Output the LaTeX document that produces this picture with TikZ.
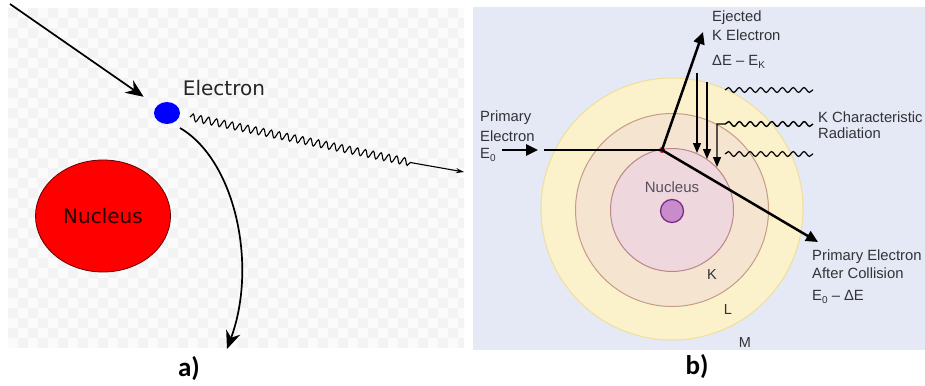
\documentclass[tikz,border=0pt]{standalone}
\usepackage{fontspec}
\setmainfont{Liberation Sans}
\newfontfamily\dejavu{DejaVu Sans}
\newfontfamily\carlito{Carlito}
\usetikzlibrary{arrows.meta,decorations.pathmorphing,shapes.geometric}

\definecolor{chkA}{RGB}{251,251,251}
\definecolor{chkB}{RGB}{243,243,243}
\definecolor{bgB}{RGB}{229,233,245}
\definecolor{Mfill}{RGB}{251,241,203}
\definecolor{Mdraw}{RGB}{240,222,155}
\definecolor{Lfill}{RGB}{245,229,208}
\definecolor{Ldraw}{RGB}{196,156,136}
\definecolor{Kfill}{RGB}{238,216,221}
\definecolor{Kdraw}{RGB}{185,135,138}
\definecolor{nucfill}{RGB}{200,140,205}
\definecolor{nucdraw}{RGB}{120,45,130}
\definecolor{hitred}{RGB}{180,30,45}
\definecolor{txtB}{RGB}{50,50,55}
\definecolor{txtNuc}{RGB}{85,80,90}

\newcommand{\lowsub}[1]{\raisebox{-0.25em}{\fontsize{10}{10}\selectfont #1}}

\begin{document}
\begin{tikzpicture}[x=1pt,y=-1pt,
  arrA/.style={line width=1.7pt,-{Stealth[length=18pt,width=15pt,inset=6pt]}},
  waveA/.style={line width=1.1pt,-{Stealth[length=8pt,width=5pt]},
    decoration={snake,segment length=8pt,amplitude=3.6pt}},
  labA/.style={font=\dejavu\fontsize{20}{22}\selectfont},
  panel/.style={font=\carlito\bfseries\fontsize{27}{28}\selectfont},
  thickB/.style={line width=2.5pt},
  arrB/.style={line width=2.5pt,-{Triangle[length=12pt,width=11pt]}},
  arrD/.style={line width=1.4pt,-{Triangle[length=10pt,width=8pt]}},
  waveB/.style={line width=1.2pt,decoration={snake,segment length=10.8pt,amplitude=2.4pt}},
  shell/.style={circle,inner sep=0pt,line width=1pt},
  labB/.style={anchor=west,inner sep=0pt,text=txtB,font=\fontsize{14.8}{16}\selectfont},
  shellLab/.style={inner sep=0pt,text=txtB,font=\fontsize{14.5}{16}\selectfont},
]
\useasboundingbox (0,0) rectangle (925,385);
\fill[white] (0,0) rectangle (925,385);

% ---------- a) bremsstrahlung ----------
\begin{scope}
  \clip (8,8) rectangle (464,348);
  \fill[chkA] (8,8) rectangle (464,348);
  \foreach \i in {0,2,...,44}
    \foreach \j in {0,2,...,32} {
      \fill[chkB] (8+\i*10,8+\j*10) rectangle ++(10,10);
      \fill[chkB] (18+\i*10,18+\j*10) rectangle ++(10,10);
    }
\end{scope}

\node[ellipse,fill=red,draw=black!60!red,line width=0.8pt,
      minimum width=135pt,minimum height=112pt,inner sep=0pt,
      text=black!85!red,labA] (nucA) at (103,216) {Nucleus};
\node[ellipse,fill=blue,minimum width=26pt,minimum height=22pt,inner sep=0pt] (elec) at (167,113) {};
\node[labA,text=black!85] (elecLab) at (224,88) {Electron};

\coordinate (inA) at (10,4);
\draw[arrA,shorten >=16pt] (inA) -- (elec);

\coordinate (defl0) at (180,128);
\coordinate (defl1) at (227,349);
\draw[arrA] (defl0) .. controls (235,160) and (258,265) .. (defl1);

\coordinate (wave0) at (190,117);
\coordinate (wave1) at (413,163);
\coordinate (wave2) at (464,172);
\draw[waveA] decorate {(wave0) -- (wave1)} -- (wave2);

\node[panel] (labA) at (189,369) {a)};

% ---------- b) characteristic radiation ----------
\fill[bgB] (473,7) rectangle (925,350);

\node[shell,fill=Mfill,draw=Mdraw,minimum size=262pt] (shM) at (672,209) {};
\node[shell,fill=Lfill,draw=Ldraw,minimum size=193pt] (shL) at (672,210) {};
\node[shell,fill=Kfill,draw=Kdraw,minimum size=123pt] (shK) at (672,210) {};
\node[shell,fill=nucfill,draw=nucdraw,line width=1.3pt,minimum size=23pt] (nucB) at (672,211) {};
\node[inner sep=0pt,text=txtNuc,font=\fontsize{15}{16}\selectfont] (nucLab) at (672,187) {Nucleus};

\node[shellLab] (labK) at (712,275) {K};
\node[shellLab] (labL) at (728,310) {L};
\node[shellLab] (labM) at (745,343) {M};

% primary electron in
\coordinate (pin0) at (502,150);
\coordinate (pin1) at (538,150);
\coordinate (pline) at (544,150);
\draw[arrB] (pin0) -- (pin1);
\node[circle,fill=hitred,minimum size=6pt,inner sep=0pt] (hit) at (662,150) {};
\draw[thickB] (pline) -- (hit.center);

% ejected K electron and scattered primary
\coordinate (ejTip) at (703,32);
\coordinate (scTip) at (818,242);
\draw[arrB] (hit.center) -- (ejTip);
\draw[arrB] (hit.center) -- (scTip);

% electron transitions into the K shell
\coordinate (d1a) at (697,73);
\coordinate (d1b) at (697,153);
\coordinate (d2a) at (707,82);
\coordinate (d2b) at (707,159);
\coordinate (d3b) at (717,167);
\draw[arrD] (d1a) -- (d1b);
\draw[arrD] (d2a) -- (d2b);

% emitted photons
\coordinate (w1a) at (725,90);
\coordinate (w1b) at (813,90);
\coordinate (w2a) at (813,124);
\coordinate (w2b) at (723,124);
\coordinate (w2c) at (717,124);
\coordinate (w3a) at (725,154);
\coordinate (w3b) at (813,154);
\draw[waveB] decorate {(w1a) -- (w1b)};
\draw[arrD] decorate[decoration={snake,segment length=10.8pt,amplitude=2.4pt}] {(w2a) -- (w2b)} -- (w2c) -- (d3b);
\draw[waveB] decorate {(w3a) -- (w3b)};

% labels
\node[labB] (tEj1) at (712,18) {Ejected};
\node[labB] (tEj2) at (712,35) {K Electron};
\node[labB] (tEj3) at (712,62) {ΔE – E\lowsub{K}};
\node[labB] (tKc1) at (818,117) {K Characteristic};
\node[labB] (tKc2) at (818,133) {Radiation};
\node[labB] (tPr1) at (480,118) {Primary};
\node[labB] (tPr2) at (480,136) {Electron};
\node[labB] (tPr3) at (480,155) {E\lowsub{0}};
\node[labB] (tAf1) at (812,257) {Primary Electron};
\node[labB] (tAf2) at (812,273) {After Collision};
\node[labB] (tAf3) at (812,297) {E\lowsub{0} – ΔE};

\node[panel] (labB) at (697,367) {b)};
\end{tikzpicture}
\end{document}
